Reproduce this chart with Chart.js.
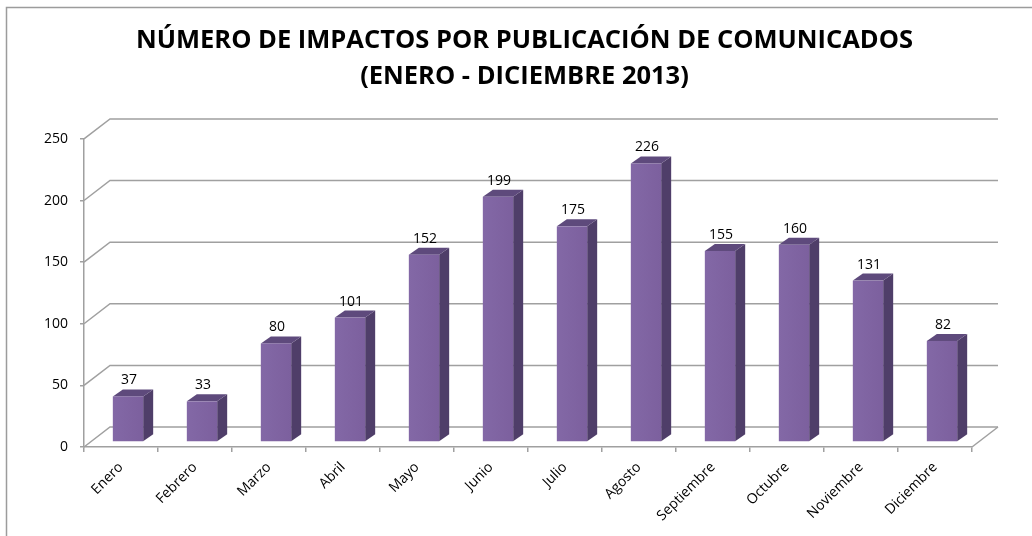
<!DOCTYPE html>
<html lang="es">

<head>
    <meta charset="UTF-8">
    <title>Impactos por publicación de comunicados</title>
    <style>
        body { margin: 0; background: #fff; }
        #wrap { width: 1032px; height: 536px; }
    </style>
</head>

<script src="https://cdn.jsdelivr.net/npm/chart.js"></script>

<body>
    <div id="wrap">
        <canvas id="grafico"></canvas>
    </div>
</body>
<script>
    const meses = ['Enero', 'Febrero', 'Marzo', 'Abril', 'Mayo', 'Junio', 'Julio', 'Agosto',
        'Septiembre', 'Octubre', 'Noviembre', 'Diciembre'];
    const impactos = [37, 33, 80, 101, 152, 199, 175, 226, 155, 160, 131, 82];
    const ticksY = [0, 50, 100, 150, 200, 250];

    const titulo = ['NÚMERO DE IMPACTOS POR PUBLICACIÓN DE COMUNICADOS', '(ENERO - DICIEMBRE 2013)'];

    // profundidad de la pared del fondo y de las barras (efecto 3D)
    const pared = { dx: 26, dy: -20 };
    const barra = { dx: 7, dy: -5, sx: 10, sy: -7 };
    const gris = '#a0a0a0';

    const plano3d = {
        id: 'plano3d',
        beforeDraw(chart) {
            const ctx = chart.ctx;
            ctx.save();
            ctx.fillStyle = '#fff';
            ctx.fillRect(0, 0, chart.width, chart.height);
            // marco del gráfico
            ctx.strokeStyle = '#9c9c9c';
            ctx.lineWidth = 1.5;
            ctx.beginPath();
            ctx.moveTo(6.5, chart.height);
            ctx.lineTo(6.5, 7.5);
            ctx.lineTo(chart.width, 7.5);
            ctx.stroke();
            ctx.restore();
        },
        beforeDatasetsDraw(chart) {
            const ctx = chart.ctx;
            const ys = chart.scales.y;
            const { left, right } = chart.chartArea;
            ctx.save();
            ctx.strokeStyle = gris;
            ctx.lineWidth = 1.5;
            ticksY.forEach(v => {
                const py = ys.getPixelForValue(v);
                ctx.beginPath();
                ctx.moveTo(left, py);
                ctx.lineTo(left + pared.dx, py + pared.dy);
                ctx.lineTo(right + pared.dx, py + pared.dy);
                ctx.stroke();
            });
            // borde derecho del suelo
            const p0 = ys.getPixelForValue(0);
            ctx.beginPath();
            ctx.moveTo(right, p0);
            ctx.lineTo(right + pared.dx, p0 + pared.dy);
            ctx.stroke();
            ctx.restore();
        },
        afterDatasetsDraw(chart) {
            const ctx = chart.ctx;
            const meta = chart.getDatasetMeta(0);
            ctx.save();
            meta.data.forEach((el, i) => {
                const { x, y, base, width } = el.getProps(['x', 'y', 'base', 'width'], true);
                const l = x - width / 2 + barra.dx;
                const r = x + width / 2 + barra.dx;
                const t = y + barra.dy;
                const b = base + barra.dy;
                // lateral
                ctx.fillStyle = '#4f3e69';
                ctx.beginPath();
                ctx.moveTo(r, b);
                ctx.lineTo(r, t);
                ctx.lineTo(r + barra.sx, t + barra.sy);
                ctx.lineTo(r + barra.sx, b + barra.sy);
                ctx.closePath();
                ctx.fill();
                // tapa
                ctx.fillStyle = '#5e4a7c';
                ctx.beginPath();
                ctx.moveTo(l, t);
                ctx.lineTo(r, t);
                ctx.lineTo(r + barra.sx, t + barra.sy);
                ctx.lineTo(l + barra.sx, t + barra.sy);
                ctx.closePath();
                ctx.fill();
                // frente
                const grad = ctx.createLinearGradient(l, 0, r, 0);
                grad.addColorStop(0, '#8368a6');
                grad.addColorStop(1, '#7c609e');
                ctx.fillStyle = grad;
                ctx.fillRect(l, t, r - l, b - t);
                // etiqueta de valor
                ctx.fillStyle = '#000';
                ctx.font = '14px "Open Sans"';
                ctx.textAlign = 'center';
                ctx.textBaseline = 'alphabetic';
                ctx.fillText(impactos[i], (l + r) / 2 + 1, t + barra.sy - 5);
            });
            ctx.restore();
        }
    };

    const data = {
        labels: meses,
        datasets: [{
            label: 'Impactos',
            data: impactos,
            backgroundColor: 'rgba(0,0,0,0)',
            borderWidth: 0,
            categoryPercentage: 1,
            barPercentage: 0.41,
        }],
    };

    const config = {
        type: 'bar',
        data: data,
        plugins: [plano3d],
        options: {
            responsive: true,
            maintainAspectRatio: false,
            animation: false,
            layout: { padding: { left: 17, right: 0, top: 0, bottom: 0 } },
            plugins: {
                legend: { display: false },
                tooltip: { enabled: false },
                title: {
                    display: true,
                    text: titulo,
                    color: '#000',
                    font: { family: '"Open Sans"', size: 25.5, weight: 'bold', lineHeight: 1.41 },
                    padding: { top: 23, bottom: 44 },
                },
            },
            scales: {
                x: {
                    offset: true,
                    grid: { offset: true, drawOnChartArea: false, drawTicks: true, tickLength: 5, color: gris, lineWidth: 1.5 },
                    border: { display: true, color: gris, width: 1.5 },
                    ticks: {
                        minRotation: 45, maxRotation: 45, padding: 7,
                        color: '#000',
                        font: { family: '"Open Sans"', size: 14 },
                    },
                    afterFit(scale) { scale.height = 89; },
                },
                y: {
                    min: ticksY[0],
                    max: ticksY[ticksY.length - 1],
                    afterBuildTicks(scale) { scale.ticks = ticksY.map(v => ({ value: v })); },
                    grid: { drawOnChartArea: false, drawTicks: true, tickLength: 4, color: gris, lineWidth: 1.5 },
                    border: { display: true, color: gris, width: 1.5 },
                    ticks: {
                        padding: 12,
                        color: '#000',
                        font: { family: '"Open Sans"', size: 14 },
                    },
                    afterFit(scale) { scale.width = 67; },
                },
                // eje vacío a la derecha: deja sitio para la pared del fondo
                hueco: {
                    type: 'linear',
                    position: 'right',
                    grid: { display: false },
                    border: { display: false },
                    ticks: { display: false },
                    afterFit(scale) { scale.width = 60; },
                },
            },
        },
    };

    const grafico = new Chart(document.getElementById('grafico'), config);
</script>

</html>
